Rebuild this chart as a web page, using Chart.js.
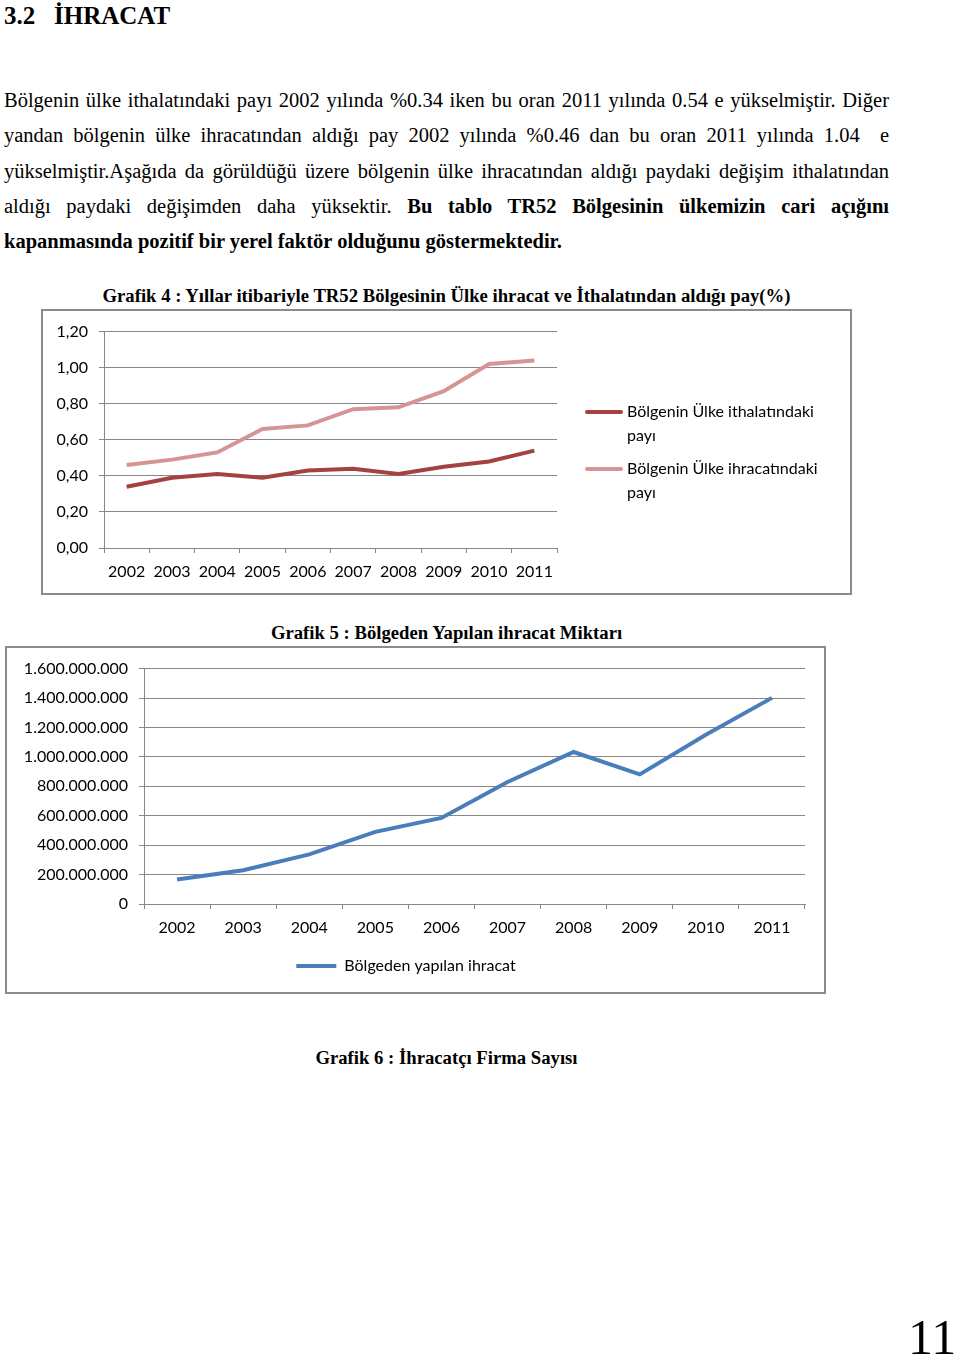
<!DOCTYPE html>
<html lang="tr">
<head>
<meta charset="utf-8">
<title>3.2 İhracat</title>
<script src="https://cdn.jsdelivr.net/npm/chart.js@4.4.1/dist/chart.umd.min.js"></script>
<style>
  html, body { margin: 0; padding: 0; background: #fff; }
  body { width: 960px; height: 1358px; position: relative; overflow: hidden; font-family: "Liberation Serif", serif; color: #000; }
  .abs { position: absolute; }
  h2 { position: absolute; left: 4px; top: 0px; margin: 0; font-size: 25px; font-weight: bold; line-height: 32px; }
  .para { position: absolute; left: 4px; top: 83px; width: 885px; font-size: 20.5px; line-height: 35.3px; }
  .para div { text-align: justify; text-align-last: justify; white-space: nowrap; }
  .para div.last { text-align-last: left; }
  .title { position: absolute; left: 4px; width: 885px; text-align: center; font-size: 18.7px; font-weight: bold; line-height: 22px; }
  .box { position: absolute; border: 2px solid #8c8c8c; box-sizing: border-box; background: #fff; }
  #legend1 { position: absolute; left: 585px; top: 399px; width: 244px; font-family: Lato, sans-serif; font-size: 16px; line-height: 24px; }
  #legend1 .item { position: relative; padding-left: 42px; margin-bottom: 9px; }
  #legend1 .swatch { position: absolute; left: 0; top: 11px; width: 38px; height: 4px; border-radius: 2px; }
  .pageno { position: absolute; left: 908px; top: 1312px; font-size: 50px; line-height: 50px; }
</style>
</head>
<body>

<h2>3.2&nbsp;&nbsp;&nbsp;İHRACAT</h2>

<div class="para">
  <div>Bölgenin ülke ithalatındaki payı 2002 yılında %0.34 iken bu oran 2011 yılında 0.54 e yükselmiştir. Diğer</div>
  <div>yandan bölgenin ülke ihracatından aldığı pay 2002 yılında %0.46 dan bu oran 2011 yılında 1.04&nbsp; e</div>
  <div>yükselmiştir.Aşağıda da görüldüğü üzere bölgenin ülke ihracatından aldığı paydaki değişim ithalatından</div>
  <div>aldığı paydaki değişimden daha yüksektir. <b>Bu tablo TR52 Bölgesinin ülkemizin cari açığını</b></div>
  <div class="last"><b>kapanmasında pozitif bir yerel faktör olduğunu göstermektedir.</b></div>
</div>

<div class="title" style="top:285px">Grafik 4 : Yıllar itibariyle TR52 Bölgesinin Ülke ihracat ve İthalatından aldığı pay(%)</div>
<div class="box" style="left:41px; top:309px; width:811px; height:286px"></div>
<canvas id="chart1" class="abs" style="left:43px; top:311px" width="807" height="282"></canvas>
<div id="legend1"></div>

<div class="title" style="top:622px">Grafik 5 : Bölgeden Yapılan ihracat Miktarı</div>
<div class="box" style="left:5px; top:646px; width:821px; height:348px"></div>
<canvas id="chart2" class="abs" style="left:7px; top:648px" width="817" height="344"></canvas>

<div class="title" style="top:1047px">Grafik 6 : İhracatçı Firma Sayısı</div>

<div class="pageno">11</div>

<script>
// years on the x axis of both charts
const years = ['2002', '2003', '2004', '2005', '2006', '2007', '2008', '2009', '2010', '2011'];

// Grafik 4 - share of the region in country imports / exports (%)
const importLabel = 'Bölgenin Ülke ithalatındaki payı';
const importShare = [0.34, 0.39, 0.41, 0.39, 0.43, 0.44, 0.41, 0.45, 0.48, 0.54];
const exportLabel = 'Bölgenin Ülke ihracatındaki payı';
const exportShare = [0.46, 0.49, 0.53, 0.66, 0.68, 0.77, 0.78, 0.87, 1.02, 1.04];

// Grafik 5 - exports from the region
const exportAmountLabel = 'Bölgeden yapılan ihracat';
const exportAmount = [167000000, 230000000, 337000000, 490000000, 585000000, 829000000, 1033000000, 881000000, 1150000000, 1401000000];

const gridGray = '#878787';
Chart.defaults.font.family = 'Lato, sans-serif';
Chart.defaults.font.size = 16;
Chart.defaults.color = '#000';

// comma decimal, like 1,20
function shareTick(v) {
  return v.toFixed(2).replace('.', ',');
}
// dotted thousands, like 1.600.000.000
function amountTick(v) {
  return String(Math.round(v)).replace(/\B(?=(\d{3})+(?!\d))/g, '.');
}

//Chart 1
const chart1 = new Chart(document.getElementById('chart1').getContext('2d'), {
  type: 'line',
  data: {
    labels: years,
    datasets: [
      { label: importLabel, data: importShare, borderColor: '#a5423f', backgroundColor: '#a5423f', borderWidth: 4, pointRadius: 0, tension: 0 },
      { label: exportLabel, data: exportShare, borderColor: '#d59595', backgroundColor: '#d59595', borderWidth: 4, pointRadius: 0, tension: 0 }
    ]
  },
  options: {
    responsive: false,
    animation: false,
    layout: { padding: { left: 0, right: 293, top: 19, bottom: 10 } },
    plugins: { legend: { display: false }, tooltip: { enabled: false } },
    scales: {
      x: {
        offset: true,
        grid: { offset: true, drawOnChartArea: false, drawTicks: true, tickLength: 5, color: gridGray },
        border: { display: true, color: gridGray, width: 1 },
        ticks: { padding: 9, maxRotation: 0, autoSkip: false },
        afterFit: function (scale) { scale.height = 35; }
      },
      y: {
        min: 0,
        max: 1.2,
        ticks: { stepSize: 0.2, padding: 11, callback: shareTick },
        grid: { color: gridGray, tickLength: 5 },
        border: { display: true, color: gridGray, width: 1 },
        afterFit: function (scale) { scale.width = 61; }
      }
    }
  }
});

// legend for chart 1 (wraps like the original)
const legend1 = document.getElementById('legend1');
chart1.data.datasets.forEach(function (ds) {
  const item = document.createElement('div');
  item.className = 'item';
  item.innerHTML = '<span class="swatch" style="background:' + ds.borderColor + '"></span>' + ds.label;
  legend1.appendChild(item);
});

//Chart 2
new Chart(document.getElementById('chart2').getContext('2d'), {
  type: 'line',
  data: {
    labels: years,
    datasets: [
      { label: exportAmountLabel, data: exportAmount, borderColor: '#4a7ebb', backgroundColor: '#4a7ebb', borderWidth: 4, pointRadius: 0, tension: 0 }
    ]
  },
  options: {
    responsive: false,
    animation: false,
    layout: { padding: { left: 0, right: 19, top: 18, bottom: 8 } },
    plugins: {
      tooltip: { enabled: false },
      legend: {
        position: 'bottom',
        labels: { usePointStyle: true, pointStyle: 'line', pointStyleWidth: 40, boxHeight: 4, padding: 8 }
      }
    },
    scales: {
      x: {
        offset: true,
        grid: { offset: true, drawOnChartArea: false, drawTicks: true, tickLength: 5, color: gridGray },
        border: { display: true, color: gridGray, width: 1 },
        ticks: { padding: 9, maxRotation: 0, autoSkip: false },
        afterFit: function (scale) { scale.height = 46; }
      },
      y: {
        min: 0,
        max: 1600000000,
        ticks: { stepSize: 200000000, padding: 11, callback: amountTick },
        grid: { color: gridGray, tickLength: 5 },
        border: { display: true, color: gridGray, width: 1 },
        afterFit: function (scale) { scale.width = 137; }
      }
    }
  }
});
</script>
</body>
</html>
